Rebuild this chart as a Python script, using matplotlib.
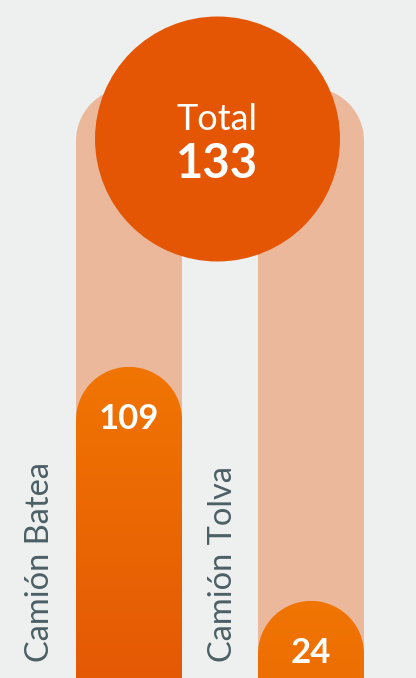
import numpy as np
import matplotlib
matplotlib.use("Agg")
import matplotlib.pyplot as plt
from matplotlib.patches import PathPatch, Ellipse
from matplotlib.path import Path
from matplotlib.colors import LinearSegmentedColormap

# ---- data ----
categories = ["Camión Batea", "Camión Tolva"]
values = [109, 24]
total = 133
track_max = 210.4

# ---- style ----
BG = "#eef0ef"
TRACK = "#ecb89c"
TOP_ORANGE = "#f07502"
BOT_ORANGE = "#e55905"
CIRCLE = "#e55604"
LABEL = "#4b5f64"

W, H, DPI = 416, 678, 100
fig = plt.figure(figsize=(W / DPI, H / DPI), dpi=DPI, facecolor=BG)
ax = fig.add_axes([0, 0, 1, 1])
ax.set_facecolor(BG)
ax.axis("off")

xlim = (-129 / 182, (W - 129) / 182)
ylim = (-4.0, -4.0 + H / 2.753)
ax.set_xlim(*xlim)
ax.set_ylim(*ylim)
base = ylim[0]

px_x = W / (xlim[1] - xlim[0])
px_y = H / (ylim[1] - ylim[0])
bar_w = 106 / px_x
half = bar_w / 2
ry = half * px_x / px_y

def capped_path(c, bottom, top):
    th = np.linspace(np.pi, 0, 80)
    verts = [(c - half, bottom), (c - half, top - ry)]
    verts += [(c + half * np.cos(t), top - ry + ry * np.sin(t)) for t in th]
    verts += [(c + half, bottom), (c - half, bottom)]
    codes = [Path.MOVETO] + [Path.LINETO] * (len(verts) - 2) + [Path.CLOSEPOLY]
    return Path(verts, codes)

cmap = LinearSegmentedColormap.from_list("og", [BOT_ORANGE, TOP_ORANGE])
xs = np.arange(len(categories))
grad_len = max(values) - base

for i, (cat, v) in enumerate(zip(categories, values)):
    c = xs[i]
    track = PathPatch(capped_path(c, base, track_max), facecolor=TRACK,
                      edgecolor="none", zorder=1)
    ax.add_patch(track)
    bar = PathPatch(capped_path(c, base, v), facecolor="none",
                    edgecolor="none", zorder=2)
    ax.add_patch(bar)
    grad = np.linspace(0, 1, 256).reshape(-1, 1)
    im = ax.imshow(grad, cmap=cmap,
                   extent=[c - half, c + half, v - grad_len, v],
                   origin="lower", aspect="auto", zorder=2)
    im.set_clip_path(bar)
    # value label
    ax.annotate(str(v), xy=(c, v), xytext=(0, -62 * 72 / DPI),
                textcoords="offset points", ha="center", va="baseline",
                color="white", fontsize=25, fontweight="bold",
                fontfamily="Lato", zorder=5)
    # category label
    ax.annotate(cat, xy=(c, base), xycoords="data",
                xytext=(-88.5 * 72 / DPI, 16 * 72 / DPI),
                textcoords="offset points",
                ha="center", va="bottom", rotation=90, color=LABEL,
                fontsize=23.5, fontfamily="Lato", zorder=5,
                annotation_clip=False)

ax.set_xlim(*xlim)
ax.set_ylim(*ylim)

# total circle
circ = Ellipse((217.5 / W, 1 - 139 / H), 245 / W, 245 / H,
               transform=ax.transAxes, facecolor=CIRCLE, edgecolor="none",
               zorder=4)
ax.add_patch(circ)
ax.text(217 / W, 1 - 130 / H, "Total", transform=ax.transAxes,
        ha="center", va="baseline", color="white", fontsize=26,
        fontfamily="Lato", fontweight="normal", zorder=6)
ax.text(217 / W, 1 - 178 / H, str(total), transform=ax.transAxes,
        ha="center", va="baseline", color="white", fontsize=34,
        fontfamily="Lato", fontweight="bold", zorder=6)

fig.savefig("out.png", dpi=DPI, facecolor=BG)
